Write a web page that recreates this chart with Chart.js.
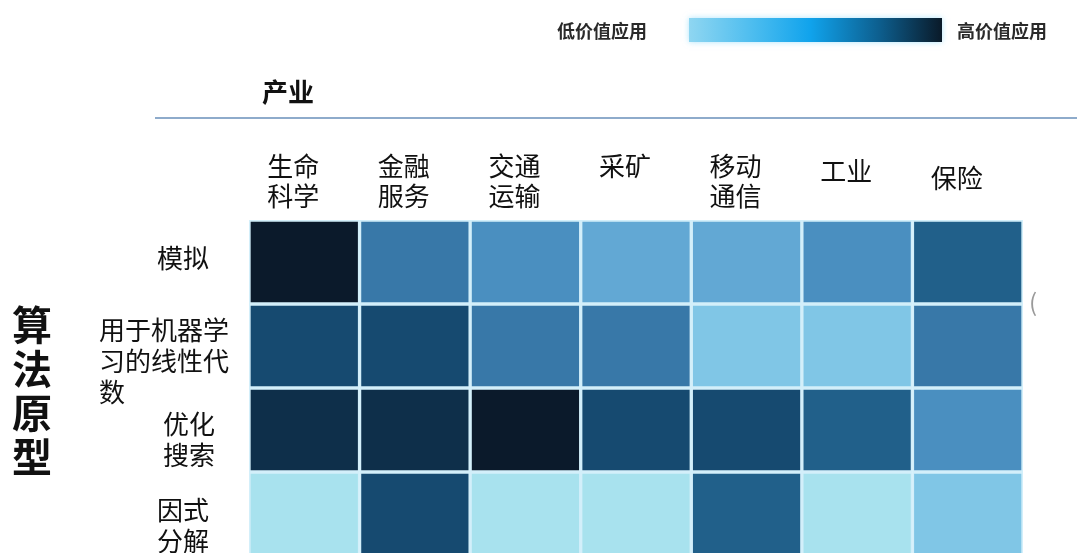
<!DOCTYPE html>
<html>
<head>
<meta charset="utf-8">
<script src="https://cdn.jsdelivr.net/npm/chart.js@4.4.1/dist/chart.umd.min.js"></script>
<style>
  html, body { margin: 0; padding: 0; background: #ffffff; overflow: hidden; }
  #wrap { width: 1077px; height: 560px; position: relative; }
</style>
</head>
<body>
<div id="wrap"><canvas id="c" width="1077" height="560"></canvas></div>
<script>
// ---------------- data ----------------
const industries = ['生命科学', '金融服务', '交通运输', '采矿', '移动通信', '工业', '保险'];
const industryLines = [['生命', '科学'], ['金融', '服务'], ['交通', '运输'], ['采矿'], ['移动', '通信'], ['工业'], ['保险']];
const algorithms = ['模拟', '用于机器学习的线性代数', '优化搜索', '因式分解'];
const algorithmLines = [['模拟'], ['用于机器学', '习的线性代', '数'], ['优化', '搜索'], ['因式', '分解']];
// value level (1 = low-value application, 10 = high-value application)
const simulation   = [10, 6, 5, 4, 4, 5, 7];
const linearAlgebra = [8, 8, 6, 6, 3, 3, 6];
const optimization = [9, 9, 10, 8, 8, 7, 5];
const factoring    = [2, 8, 2, 2, 7, 2, 3];
const rowValues = [simulation, linearAlgebra, optimization, factoring];
const axisTitle = '产业';
const sideTitle = ['算', '法', '原', '型'];
const legendLow = '低价值应用';
const legendHigh = '高价值应用';

// ---------------- style ----------------
const colorStops = [
  [2, [168, 226, 238]],
  [3, [128, 198, 230]],
  [4, [98, 168, 212]],
  [5, [74, 143, 192]],
  [6, [56, 120, 168]],
  [7, [33, 96, 138]],
  [8, [22, 74, 112]],
  [9, [14, 47, 74]],
  [10, [11, 26, 43]]
];
function colorFor(v) {
  if (v <= colorStops[0][0]) return 'rgb(' + colorStops[0][1].join(',') + ')';
  for (let i = 1; i < colorStops.length; i++) {
    const [v1, c1] = colorStops[i];
    const [v0, c0] = colorStops[i - 1];
    if (v <= v1) {
      const t = (v - v0) / (v1 - v0);
      const c = c0.map((x, k) => Math.round(x + (c1[k] - x) * t));
      return 'rgb(' + c.join(',') + ')';
    }
  }
  return 'rgb(' + colorStops[colorStops.length - 1][1].join(',') + ')';
}
const FONT = '"Noto Sans CJK SC", "Noto Sans", sans-serif';
const rowLabelLeft = [157, 99, 163, 157];
const rowLabelFirstDy = [-4, -16, -6, -4];
const colLabelDy = [0, 0, 0, 0, 0, 5, 12];

const datasets = rowValues.map((vals, r) => ({
  label: algorithms[r],
  data: vals.map(() => [r, r + 1]),
  backgroundColor: (ctx) => colorFor(vals[ctx.dataIndex]),
  borderColor: '#d3effa',
  borderWidth: 2,
  borderSkipped: false,
  grouped: false,
  barPercentage: 1,
  categoryPercentage: 1
}));

const decorPlugin = {
  id: 'decor',
  afterDraw(chart) {
    const ctx = chart.ctx;
    const xs = chart.scales.x, ys = chart.scales.y;
    ctx.save();
    // legend
    ctx.fillStyle = '#2a2a2a';
    ctx.font = 'bold 18px ' + FONT;
    ctx.textBaseline = 'middle';
    ctx.textAlign = 'left';
    ctx.fillText(legendLow, 557, 31);
    ctx.fillText(legendHigh, 957, 31);
    const gx0 = 689, gx1 = 942;
    const g = ctx.createLinearGradient(gx0, 0, gx1, 0);
    g.addColorStop(0, '#8fd6f1');
    g.addColorStop(0.25, '#4dbdef');
    g.addColorStop(0.48, '#10a3ec');
    g.addColorStop(0.75, '#0d5f8f');
    g.addColorStop(1, '#0a1a29');
    ctx.shadowColor = 'rgba(120,210,250,0.6)';
    ctx.shadowBlur = 6;
    ctx.fillStyle = g;
    ctx.fillRect(gx0, 18, gx1 - gx0, 24);
    ctx.shadowBlur = 0;
    ctx.shadowColor = 'transparent';

    // axis title + rule
    ctx.fillStyle = '#111';
    ctx.font = 'bold 26px ' + FONT;
    ctx.fillText(axisTitle, 262, 92);
    ctx.strokeStyle = '#8eabcb';
    ctx.lineWidth = 2;
    ctx.beginPath();
    ctx.moveTo(155, 118);
    ctx.lineTo(1077, 118);
    ctx.stroke();

    // column labels
    ctx.font = '26px ' + FONT;
    ctx.textAlign = 'center';
    ctx.fillStyle = '#111';
    industryLines.forEach((lines, i) => {
      const cx = xs.getPixelForValue(i) - 11;
      lines.forEach((t, k) => ctx.fillText(t, cx, 166 + colLabelDy[i] + k * 30));
    });

    // row labels
    ctx.textAlign = 'left';
    algorithmLines.forEach((lines, r) => {
      const cy = ys.getPixelForValue(r + 0.5);
      lines.forEach((t, k) => ctx.fillText(t, rowLabelLeft[r], cy + rowLabelFirstDy[r] + k * 31));
    });

    // side title
    ctx.font = 'bold 40px ' + FONT;
    ctx.textAlign = 'center';
    sideTitle.forEach((t, k) => ctx.fillText(t, 32, 325 + k * 44));

    // small stray bracket at right
    ctx.fillStyle = '#9a9a9a';
    ctx.font = '24px ' + FONT;
    ctx.fillText('(', 1033, 302);
    ctx.restore();
  }
};

new Chart(document.getElementById('c'), {
  type: 'bar',
  data: { labels: industries, datasets },
  options: {
    responsive: false,
    animation: false,
    layout: { padding: { left: 249, right: 54, top: 220, bottom: 4 } },
    plugins: { legend: { display: false }, tooltip: { enabled: false }, title: { display: false } },
    scales: {
      x: { display: false, offset: true, grid: { display: false } },
      y: { display: false, min: 0, max: 4, reverse: true, grid: { display: false } }
    }
  },
  plugins: [decorPlugin]
});
</script>
</body>
</html>
